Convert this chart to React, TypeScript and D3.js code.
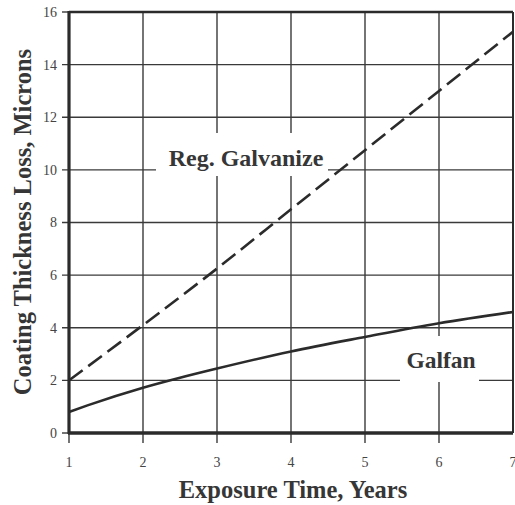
import React from 'react'
import * as d3 from 'd3'

const width = 515
const height = 505
const margin = { top: 12, right: 2, bottom: 72, left: 69 }

// exposure time, years
const years = [1, 2, 3, 4, 5, 6, 7]
const galvanize = [2.0, 4.1, 6.25, 8.5, 10.75, 13.0, 15.25]

const galfanYears = [1, 1.25, 2, 2.5, 3, 4, 5, 6, 7]
const galfan = [0.8, 1.05, 1.72, 2.1, 2.45, 3.1, 3.65, 4.17, 4.6]

const yTicks = [0, 2, 4, 6, 8, 10, 12, 14, 16]

const ink = '#2b2b2b'
const serif = '"Liberation Serif", "Times New Roman", serif'

const xScale = d3
    .scaleLinear()
    .domain([1, 7])
    .range([margin.left, width - margin.right])
const yScale = d3
    .scaleLinear()
    .domain([0, 16])
    .range([height - margin.bottom, margin.top])

const line = d3
    .line<[number, number]>()
    .x((d) => xScale(d[0]))
    .y((d) => yScale(d[1]))
    .curve(d3.curveMonotoneX)

const galvPath = line(years.map((x, i) => [x, galvanize[i]]) as [number, number][])
const galfanPath = line(galfanYears.map((x, i) => [x, galfan[i]]) as [number, number][])

const App = () => {
    const x0 = xScale(1)
    const x1 = xScale(7)
    const y0 = yScale(0)
    const y1 = yScale(16)

    return (
        <svg
            width={width}
            height={height}
            style={{ position: 'absolute', left: 0, top: 0, background: '#fff' }}
        >
            {/* grid */}
            <g stroke={'#3a3a3a'} strokeWidth={1.4}>
                {years.slice(1, -1).map((d) => (
                    <line key={'v' + d} x1={xScale(d)} x2={xScale(d)} y1={y1} y2={y0 + 10} />
                ))}
                <line x1={x0} x2={x0} y1={y0} y2={y0 + 10} />
                {yTicks.slice(1, -1).map((d) => (
                    <line key={'h' + d} x1={x0 - 7} x2={x1} y1={yScale(d)} y2={yScale(d)} />
                ))}
                <line x1={x0 - 7} x2={x0} y1={y0} y2={y0} />
                <line x1={x0 - 7} x2={x0} y1={y1} y2={y1} />
            </g>

            {/* label knockouts */}
            <rect x={156} y={133} width={172} height={43} fill={'#fff'} />
            <rect x={400} y={336} width={79} height={46} fill={'#fff'} />

            {/* frame */}
            <line x1={x0} x2={x1} y1={y1} y2={y1} stroke={ink} strokeWidth={2.5} />
            <line x1={x1} x2={x1} y1={y1} y2={y0} stroke={ink} strokeWidth={2} />
            <line x1={x0} x2={x0} y1={y1 - 1} y2={y0 + 1} stroke={ink} strokeWidth={3.2} />
            <line x1={x0 - 1} x2={x1} y1={y0} y2={y0} stroke={ink} strokeWidth={3.5} />

            {/* series */}
            <path d={galvPath} fill={'none'} stroke={ink} strokeWidth={2.6} strokeDasharray={'17,7'} />
            <path d={galfanPath} fill={'none'} stroke={ink} strokeWidth={2.6} />

            {/* tick labels */}
            <g fontFamily={serif} fontSize={14} fill={'#444'}>
                {yTicks.map((d) => (
                    <text key={'yl' + d} x={57} y={yScale(d)} dy={'0.35em'} textAnchor={'end'}>
                        {d}
                    </text>
                ))}
                {years.map((d) => (
                    <text key={'xl' + d} x={xScale(d)} y={467} textAnchor={'middle'}>
                        {d}
                    </text>
                ))}
            </g>

            {/* series labels */}
            <g fontFamily={serif} fontWeight={'bold'} fill={'#363636'}>
                <text x={246} y={166} fontSize={24} textAnchor={'middle'}>
                    Reg. Galvanize
                </text>
                <text x={441} y={368} fontSize={23.5} textAnchor={'middle'}>
                    Galfan
                </text>
            </g>

            {/* axis titles */}
            <g fontFamily={serif} fontSize={24.5} fontWeight={'bold'} fill={'#363636'}>
                <text x={293} y={498} textAnchor={'middle'}>
                    Exposure Time, Years
                </text>
                <text
                    transform={'translate(31,222) rotate(-90)'}
                    textAnchor={'middle'}
                >
                    Coating Thickness Loss, Microns
                </text>
            </g>
        </svg>
    )
}

export default App
